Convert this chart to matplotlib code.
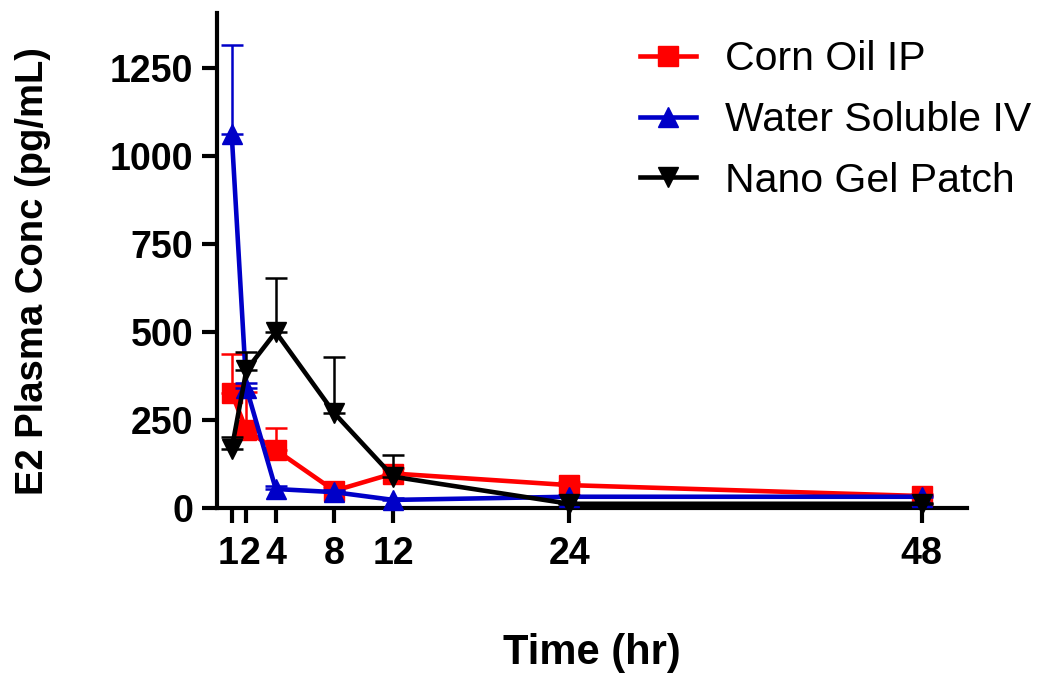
import numpy as np
import matplotlib.pyplot as plt
from matplotlib.lines import Line2D
from matplotlib.transforms import ScaledTranslation

plt.rcParams['font.family'] = ['Liberation Sans', 'DejaVu Sans']

# sampling times (hr)
time_hr = [1, 2, 4, 8, 12, 24, 48]

# E2 plasma concentration (pg/mL), mean and upper error
corn_oil = [326, 222, 165, 49, 98, 65, 34]
corn_oil_err = [111, 108, 61, 12, 15, 10, 6]
water_iv = [1062, 341, 54, 45, 23, 32, 32]
water_iv_err = [253, 15, 8, 6, 5, 4, 4]
nano_gel = [168, 392, 500, 269, 89, 12, 12]
nano_gel_err = [33, 52, 153, 161, 63, 3, 3]

series = [
    ('Corn Oil IP', corn_oil, corn_oil_err, '#ff0000', 's'),
    ('Water Soluble IV', water_iv, water_iv_err, '#0000c8', '^'),
    ('Nano Gel Patch', nano_gel, nano_gel_err, '#000000', 'v'),
]

fig = plt.figure(figsize=(10.37, 6.75), dpi=100)
ax = fig.add_axes([0.2093, 0.2474, 0.7232, 0.7336])

handles = []
for i, (label, y, err, color, marker) in enumerate(series):
    y = np.array(y)
    err = np.array(err)
    ax.errorbar(time_hr, y, yerr=[np.zeros_like(err), err],
                color=color, marker=marker, markersize=15,
                linewidth=3.3, elinewidth=1.8, capsize=8, capthick=1.8,
                zorder=3 + i, clip_on=False)
    handles.append(Line2D([], [], color=color, marker=marker,
                          markersize=15, linewidth=3.3, label=label))

ax.set_xlim(0, 51.1)
ax.set_ylim(0, 1407)
ax.set_xticks(time_hr)
ax.set_yticks([0, 250, 500, 750, 1000, 1250])

for side in ['top', 'right']:
    ax.spines[side].set_visible(False)
for side in ['left', 'bottom']:
    ax.spines[side].set_linewidth(3)

ax.tick_params(axis='both', direction='out', length=11, width=3,
               labelsize=27)
ax.tick_params(axis='x', pad=9)
ax.tick_params(axis='y', pad=6)
for lbl in ax.get_xticklabels() + ax.get_yticklabels():
    lbl.set_fontweight('bold')

# nudge the crowded "1" and "2" labels apart a little
xlabels = ax.get_xticklabels()
for lbl, dx in [(xlabels[0], -2.5), (xlabels[1], 2.5)]:
    lbl.set_transform(lbl.get_transform()
                      + ScaledTranslation(dx / 72, 0, fig.dpi_scale_trans))

ax.set_xlabel('Time (hr)', fontsize=30, fontweight='bold', labelpad=44)
ax.set_ylabel('E2 Plasma Conc (pg/mL)', fontsize=27.5, fontweight='bold')
ax.yaxis.set_label_coords(-0.222, 0.478)

ax.legend(handles=handles, loc='upper left', bbox_to_anchor=(0.617, 0.94),
          bbox_transform=fig.transFigure, frameon=False,
          fontsize=29.5, handlelength=1.36, handletextpad=0.72,
          labelspacing=0.55, borderpad=0, borderaxespad=0, numpoints=1)

fig.savefig('out.png', dpi=100)
